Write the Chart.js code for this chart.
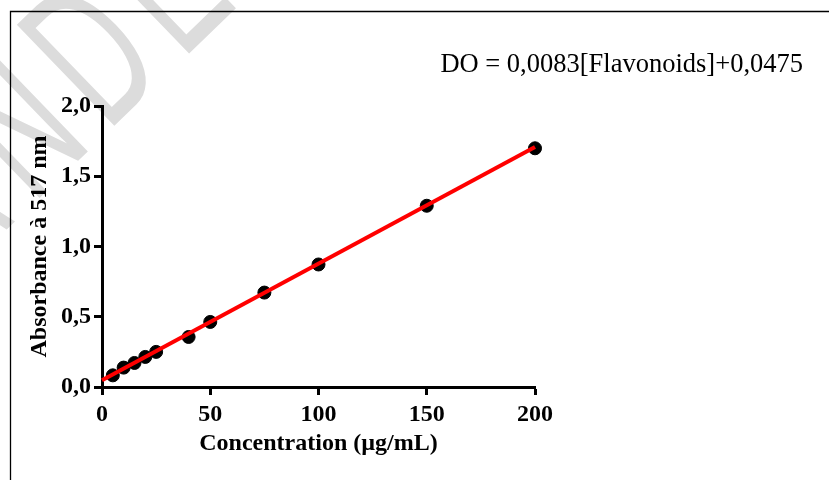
<!DOCTYPE html>
<html>
<head>
<meta charset="utf-8">
<script src="https://cdn.jsdelivr.net/npm/chart.js@4/dist/chart.umd.min.js"></script>
<style>
  html, body { margin: 0; padding: 0; background: #fff; }
</style>
</head>
<body>
<canvas id="courbe" width="829" height="480"></canvas>
<script>
// Courbe d'étalonnage des flavonoïdes
const concentrations = [5, 10, 15, 20, 25, 40, 50, 75, 100, 150, 200];
const absorbances = [0.083, 0.138, 0.171, 0.214, 0.25, 0.356, 0.463, 0.672, 0.872, 1.29, 1.699];
const fitX = [0, 200];
const fitY = [0.0475, 1.7075];
const xTicks = [0, 50, 100, 150, 200];
const yTicks = [0, 0.5, 1, 1.5, 2];
const equation = 'DO = 0,0083[Flavonoids]+0,0475';
const watermark = ['A', 'N', 'D', 'E'];

const serif = '"Liberation Serif", "Times New Roman", serif';

// filigrane, cadre et équation
const decor = {
    id: 'decor',
    beforeDraw(chart) {
        const ctx = chart.ctx;
        ctx.save();
        ctx.fillStyle = '#dcdcdc';
        ctx.font = '120px "Liberation Sans", Arial, sans-serif';
        const ang = -44 * Math.PI / 180;
        const bx = Math.cos(ang), by = Math.sin(ang);
        const ox = 118 - 15 * bx, oy = 122 - 15 * by;
        watermark.forEach((ch, i) => {
            const k = i - 2;
            ctx.save();
            ctx.translate(ox + k * 104 * bx, oy + k * 104 * by);
            ctx.rotate(ang);
            ctx.scale(1, 1.7);
            ctx.fillText(ch, 0, 0);
            ctx.restore();
        });
        ctx.strokeStyle = '#000';
        ctx.lineWidth = 1.3;
        ctx.beginPath();
        ctx.moveTo(10.5, 480);
        ctx.lineTo(10.5, 11.5);
        ctx.lineTo(829, 11.5);
        ctx.stroke();
        ctx.restore();
    },
    afterDraw(chart) {
        const ctx = chart.ctx;
        ctx.save();
        ctx.fillStyle = '#000';
        ctx.font = '26.5px ' + serif;
        ctx.textAlign = 'right';
        ctx.textBaseline = 'alphabetic';
        ctx.fillText(equation, chart.width - 26, 72);
        ctx.restore();
    }
};

const axisGrid = {
    display: true,
    drawOnChartArea: false,
    drawTicks: true,
    tickLength: 8,
    tickWidth: 3,
    tickColor: '#000',
    color: '#000'
};

new Chart(document.getElementById('courbe'), {
    type: 'scatter',
    data: {
        datasets: [
            {
                type: 'line',
                data: fitX.map((x, i) => ({ x: x, y: fitY[i] })),
                borderColor: '#ff0000',
                borderWidth: 4,
                pointRadius: 0,
                fill: false,
                clip: false,
                order: 0
            },
            {
                data: concentrations.map((x, i) => ({ x: x, y: absorbances[i] })),
                backgroundColor: '#000',
                borderColor: '#000',
                pointRadius: 6.5,
                pointHoverRadius: 6.5,
                clip: false,
                order: 1
            }
        ]
    },
    plugins: [decor],
    options: {
        responsive: false,
        animation: false,
        devicePixelRatio: 1,
        layout: { padding: { top: 106, right: 294, left: 0, bottom: 0 } },
        plugins: {
            legend: { display: false },
            tooltip: { enabled: false }
        },
        scales: {
            x: {
                type: 'linear',
                min: 0,
                max: 200,
                afterBuildTicks: s => { s.ticks = xTicks.map(v => ({ value: v })); },
                afterFit: s => { s.height = 93; },
                grid: axisGrid,
                border: { display: true, width: 3, color: '#000' },
                ticks: {
                    color: '#000',
                    padding: 5,
                    maxRotation: 0,
                    font: { family: serif, size: 24, weight: 'bold' },
                    callback: v => String(v)
                },
                title: {
                    display: true,
                    text: 'Concentration (µg/mL)',
                    color: '#000',
                    padding: { top: 0, bottom: 22 },
                    font: { family: serif, size: 24, weight: 'bold' }
                }
            },
            y: {
                type: 'linear',
                min: 0,
                max: 2,
                afterBuildTicks: s => { s.ticks = yTicks.map(v => ({ value: v })); },
                afterFit: s => { s.width = 102; },
                grid: axisGrid,
                border: { display: true, width: 3, color: '#000' },
                ticks: {
                    color: '#000',
                    padding: 3,
                    font: { family: serif, size: 24, weight: 'bold' },
                    callback: v => v.toFixed(1).replace('.', ',')
                },
                title: {
                    display: true,
                    text: 'Absorbance à 517 nm',
                    color: '#000',
                    padding: { top: 25, bottom: 0 },
                    font: { family: serif, size: 24, weight: 'bold' }
                }
            }
        }
    }
});
</script>
</body>
</html>
